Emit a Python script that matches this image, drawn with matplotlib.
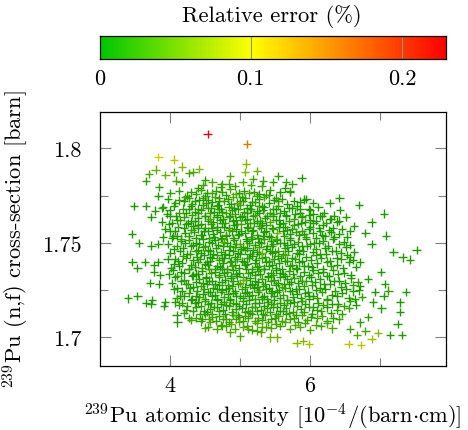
import numpy as np
import matplotlib
matplotlib.use("Agg")
import matplotlib.pyplot as plt
from matplotlib.colors import LinearSegmentedColormap

plt.rcParams['font.family'] = 'cmr10'
plt.rcParams['mathtext.fontset'] = 'cm'
plt.rcParams['axes.unicode_minus'] = False

# ---- data: 239Pu atomic density [1e-4/(barn cm)], cross-section [barn], rel. error [%]
# sparse points around the cloud
x_edge = [4.54, 5.107, 3.84, 4.06, 4.175, 3.80, 4.06, 3.94, 4.42, 4.34, 4.28, 3.71, 3.66, 4.09, 4.17,
          4.50, 3.85, 4.01, 3.84, 4.41, 4.25, 5.09, 5.07, 5.25, 5.19, 4.86, 4.74, 3.49, 3.66, 3.89,
          3.79, 3.74, 3.46,
          5.55, 5.88, 5.33, 5.47, 5.66, 5.75, 5.64, 5.72, 5.42, 5.92, 6.04, 6.42, 6.28, 6.70, 6.43,
          7.06, 6.88, 6.51, 6.17, 6.29, 6.41, 5.99, 5.86, 6.05, 6.63, 6.79, 7.08, 6.57, 6.14,
          7.52, 7.19, 7.32, 7.43, 7.01, 7.07, 7.12, 7.37, 6.93, 7.05, 7.28, 6.90, 7.28, 7.02, 7.25,
          7.14, 7.31, 6.97, 6.88, 6.73, 6.55, 6.79, 6.67, 5.99, 5.90, 5.81, 5.53, 5.43, 5.24, 6.88,
          6.71, 6.57, 6.83, 6.71, 6.64, 6.83, 6.71, 6.57,
          3.56, 3.47, 3.65, 3.54, 3.41, 3.54, 3.66, 3.75, 3.74, 3.92, 3.93, 3.78, 3.86, 3.72, 3.85,
          3.78, 3.84, 3.74, 3.84, 4.08, 4.10, 4.11, 4.27, 4.46, 4.55, 4.74, 4.86, 5.00, 5.12, 5.30]
y_edge = [1.8077, 1.8023, 1.7952, 1.7940, 1.7903, 1.7887, 1.7873, 1.7859, 1.7890, 1.7876, 1.7869,
          1.7862, 1.7825, 1.7829, 1.7820, 1.7830, 1.7795, 1.7763, 1.7749, 1.7788, 1.7750, 1.7919,
          1.7873, 1.7878, 1.7838, 1.7852, 1.7811, 1.7696, 1.7696, 1.7684, 1.7670, 1.7635, 1.7547,
          1.7852, 1.7844, 1.7829, 1.7820, 1.7823, 1.7811, 1.7788, 1.7770, 1.7753, 1.7728, 1.7711,
          1.7737, 1.7711, 1.7700, 1.7675, 1.7654, 1.7608, 1.7635, 1.7643, 1.7626, 1.7617, 1.7647,
          1.7679, 1.7605, 1.7587, 1.7552, 1.7538, 1.7564, 1.7564,
          1.7463, 1.7453, 1.7423, 1.7411, 1.7344, 1.7282, 1.7247, 1.7238, 1.7241, 1.7220, 1.7185,
          1.7185, 1.7135, 1.7153, 1.7069, 1.7012, 1.7012, 1.7023, 1.6991, 1.6959, 1.6965, 1.7035,
          1.7012, 1.6963, 1.6982, 1.6970, 1.7000, 1.7000, 1.7035, 1.7494, 1.7397, 1.7423, 1.7308,
          1.7273, 1.7203, 1.7106, 1.7079, 1.7044,
          1.7499, 1.7397, 1.7400, 1.7365, 1.7206, 1.7220, 1.7181, 1.7199, 1.7176, 1.7164, 1.7185,
          1.7347, 1.7330, 1.7287, 1.7282, 1.7383, 1.7400, 1.7485, 1.7494, 1.7185, 1.7118, 1.7079,
          1.7101, 1.7097, 1.7053, 1.7061, 1.7026, 1.7005, 1.7044, 1.7026]
e_edge = [.23, .16, .10, .09, .07, .06, .05, .06, .07, .05, .04, .05, .03, .05, .04,
          .03, .03, .03, .02, .02, .02, .07, .07, .06, .04, .05, .04, .02, .02, .03,
          .02, .02, .02,
          .03, .02, .03, .03, .03, .03, .02, .02, .02, .02, .02, .02, .02, .02, .02,
          .02, .02, .02, .02, .02, .02, .02, .02, .02, .02, .02, .02, .02, .02,
          .02, .02, .02, .02, .02, .02, .03, .02, .02, .02, .02, .02, .02, .02, .02,
          .02, .02, .07, .08, .09, .09, .04, .05, .08, .07, .07, .06, .06, .05, .02,
          .02, .02, .02, .02, .02, .03, .03, .04,
          .02, .02, .02, .02, .02, .02, .02, .02, .02, .02, .02, .02, .02, .02, .02,
          .02, .02, .02, .02, .02, .02, .02, .03, .03, .04, .04, .05, .05, .05, .05]

# dense core of the cloud, row by row from top to bottom
x_core = [
    4.47, 4.61, 4.73, 4.84, 4.93, 5.04, 5.16, 5.31,
    4.13, 4.31, 4.44, 4.53, 4.66, 4.75, 4.86, 4.99, 5.06, 5.2, 5.28, 5.43, 5.58, 5.71,
    3.98, 4.14, 4.27, 4.36, 4.48, 4.54, 4.65, 4.71, 4.83, 4.9, 5.01, 5.08, 5.17, 5.27, 5.35, 5.49, 5.6, 5.77, 5.95,
    3.91, 4.06, 4.19, 4.3, 4.41, 4.47, 4.59, 4.67, 4.73, 4.84, 4.92, 5.0, 5.11, 5.16, 5.28, 5.34, 5.47, 5.55, 5.7, 5.81, 5.98, 6.12,
    3.96, 4.09, 4.23, 4.32, 4.4, 4.51, 4.58, 4.68, 4.75, 4.86, 4.93, 5.03, 5.1, 5.21, 5.28, 5.39, 5.47, 5.58, 5.66, 5.79, 5.89, 6.05, 6.2, 6.34,
    3.89, 4.03, 4.15, 4.26, 4.36, 4.45, 4.55, 4.62, 4.72, 4.79, 4.9, 4.96, 5.07, 5.14, 5.25, 5.32, 5.43, 5.51, 5.62, 5.7, 5.83, 5.93, 6.08, 6.23, 6.39,
    3.94, 4.07, 4.2, 4.31, 4.41, 4.49, 4.6, 4.67, 4.77, 4.84, 4.95, 5.02, 5.12, 5.19, 5.3, 5.37, 5.48, 5.56, 5.67, 5.75, 5.88, 5.98, 6.13, 6.27, 6.46,
    3.91, 4.05, 4.16, 4.27, 4.37, 4.46, 4.56, 4.63, 4.73, 4.8, 4.91, 4.98, 5.09, 5.16, 5.26, 5.33, 5.44, 5.52, 5.63, 5.71, 5.84, 5.94, 6.09, 6.21, 6.35, 6.53,
    3.98, 4.1, 4.22, 4.33, 4.42, 4.51, 4.6, 4.69, 4.77, 4.86, 4.95, 5.04, 5.13, 5.21, 5.3, 5.39, 5.48, 5.58, 5.67, 5.77, 5.88, 6.0, 6.13, 6.26, 6.42, 6.57,
    4.01, 4.15, 4.25, 4.37, 4.44, 4.55, 4.62, 4.73, 4.79, 4.9, 4.97, 5.08, 5.14, 5.25, 5.32, 5.43, 5.5, 5.61, 5.69, 5.81, 5.9, 6.04, 6.15, 6.31, 6.44, 6.63,
    3.97, 4.12, 4.23, 4.34, 4.43, 4.53, 4.61, 4.71, 4.78, 4.88, 4.96, 5.06, 5.13, 5.23, 5.31, 5.41, 5.49, 5.59, 5.68, 5.79, 5.89, 6.02, 6.16, 6.28, 6.45, 6.61,
    4.02, 4.13, 4.27, 4.36, 4.46, 4.54, 4.64, 4.72, 4.82, 4.89, 4.99, 5.07, 5.17, 5.24, 5.34, 5.42, 5.52, 5.6, 5.71, 5.8, 5.92, 6.03, 6.18, 6.3, 6.47, 6.66,
    3.99, 4.11, 4.21, 4.33, 4.41, 4.52, 4.59, 4.7, 4.77, 4.87, 4.94, 5.05, 5.12, 5.22, 5.29, 5.4, 5.47, 5.57, 5.65, 5.76, 5.86, 5.99, 6.11, 6.25, 6.4, 6.58,
    4.03, 4.16, 4.26, 4.38, 4.47, 4.56, 4.65, 4.74, 4.83, 4.91, 5.0, 5.09, 5.18, 5.26, 5.36, 5.44, 5.54, 5.63, 5.73, 5.83, 5.95, 6.07, 6.2, 6.34, 6.5, 6.68,
    4.06, 4.18, 4.29, 4.39, 4.49, 4.57, 4.67, 4.75, 4.85, 4.93, 5.03, 5.11, 5.2, 5.28, 5.38, 5.46, 5.56, 5.65, 5.75, 5.85, 5.97, 6.09, 6.22, 6.36, 6.52, 6.7,
    4.1, 4.21, 4.32, 4.42, 4.5, 4.6, 4.68, 4.78, 4.86, 4.95, 5.04, 5.13, 5.21, 5.31, 5.39, 5.49, 5.57, 5.67, 5.76, 5.87, 5.98, 6.1, 6.24, 6.38, 6.55, 6.74,
    4.14, 4.25, 4.36, 4.45, 4.55, 4.63, 4.73, 4.81, 4.91, 4.99, 5.09, 5.17, 5.27, 5.35, 5.45, 5.53, 5.63, 5.72, 5.82, 5.93, 6.05, 6.18, 6.32, 6.48, 6.66,
    4.2, 4.33, 4.43, 4.53, 4.61, 4.71, 4.79, 4.89, 4.97, 5.07, 5.15, 5.25, 5.33, 5.43, 5.51, 5.61, 5.7, 5.8, 5.91, 6.03, 6.16, 6.3, 6.46,
    4.31, 4.44, 4.56, 4.66, 4.76, 4.85, 4.94, 5.04, 5.12, 5.22, 5.31, 5.4, 5.5, 5.6, 5.71, 5.83, 5.96, 6.1, 6.25, 6.41,
    4.5, 4.67, 4.8, 4.93, 5.05, 5.18, 5.31, 5.45, 5.58, 5.72, 5.86, 6.0, 6.16, 6.32,
]
y_core = [
    1.7806, 1.7819, 1.7797, 1.7813, 1.7800, 1.7821, 1.7807, 1.7798,
    1.7774, 1.7766, 1.7781, 1.7762, 1.7776, 1.7768, 1.7783, 1.7764, 1.7775, 1.7770, 1.7759, 1.7779, 1.7766, 1.7772,
    1.7733, 1.7724, 1.7738, 1.7721, 1.7735, 1.7727, 1.7742, 1.7719, 1.7731, 1.7744, 1.7723, 1.7736, 1.7718, 1.7729, 1.7741, 1.7725, 1.7734, 1.7720, 1.7731,
    1.7688, 1.7697, 1.7681, 1.7693, 1.7679, 1.7700, 1.7686, 1.7695, 1.7677, 1.7691, 1.7683, 1.7698, 1.7685, 1.7678, 1.7694, 1.7687, 1.7680, 1.7696, 1.7684, 1.7692, 1.7679, 1.7689,
    1.7652, 1.7643, 1.7658, 1.7646, 1.7655, 1.7640, 1.7657, 1.7648, 1.7661, 1.7644, 1.7653, 1.7639, 1.7659, 1.7647, 1.7656, 1.7642, 1.7651, 1.7660, 1.7645, 1.7654, 1.7641, 1.7650, 1.7657, 1.7644,
    1.7612, 1.7603, 1.7618, 1.7606, 1.7615, 1.7600, 1.7617, 1.7608, 1.7621, 1.7604, 1.7613, 1.7599, 1.7619, 1.7607, 1.7616, 1.7602, 1.7611, 1.7620, 1.7605, 1.7614, 1.7601, 1.7610, 1.7617, 1.7604, 1.7612,
    1.7573, 1.7564, 1.7579, 1.7567, 1.7576, 1.7561, 1.7578, 1.7569, 1.7582, 1.7565, 1.7574, 1.7560, 1.7580, 1.7568, 1.7577, 1.7563, 1.7572, 1.7581, 1.7566, 1.7575, 1.7562, 1.7571, 1.7578, 1.7565, 1.7573,
    1.7528, 1.7537, 1.7522, 1.7534, 1.7525, 1.7540, 1.7523, 1.7532, 1.7519, 1.7536, 1.7527, 1.7541, 1.7521, 1.7533, 1.7524, 1.7538, 1.7529, 1.7520, 1.7535, 1.7526, 1.7539, 1.7530, 1.7523, 1.7536, 1.7528, 1.7533,
    1.7493, 1.7484, 1.7499, 1.7487, 1.7496, 1.7481, 1.7498, 1.7489, 1.7502, 1.7485, 1.7494, 1.7480, 1.7500, 1.7488, 1.7497, 1.7483, 1.7492, 1.7501, 1.7486, 1.7495, 1.7482, 1.7491, 1.7498, 1.7485, 1.7493, 1.7488,
    1.7448, 1.7457, 1.7442, 1.7454, 1.7445, 1.7460, 1.7443, 1.7452, 1.7439, 1.7456, 1.7447, 1.7461, 1.7441, 1.7453, 1.7444, 1.7458, 1.7449, 1.7440, 1.7455, 1.7446, 1.7459, 1.7450, 1.7443, 1.7456, 1.7448, 1.7452,
    1.7413, 1.7404, 1.7419, 1.7407, 1.7416, 1.7401, 1.7418, 1.7409, 1.7422, 1.7405, 1.7414, 1.7400, 1.7420, 1.7408, 1.7417, 1.7403, 1.7412, 1.7421, 1.7406, 1.7415, 1.7402, 1.7411, 1.7418, 1.7405, 1.7413, 1.7408,
    1.7368, 1.7377, 1.7362, 1.7374, 1.7365, 1.7380, 1.7363, 1.7372, 1.7359, 1.7376, 1.7367, 1.7381, 1.7361, 1.7373, 1.7364, 1.7378, 1.7369, 1.7360, 1.7375, 1.7366, 1.7379, 1.7370, 1.7363, 1.7376, 1.7368, 1.7372,
    1.7333, 1.7324, 1.7339, 1.7327, 1.7336, 1.7321, 1.7338, 1.7329, 1.7342, 1.7325, 1.7334, 1.7320, 1.7340, 1.7328, 1.7337, 1.7323, 1.7332, 1.7341, 1.7326, 1.7335, 1.7322, 1.7331, 1.7338, 1.7325, 1.7333, 1.7328,
    1.7288, 1.7297, 1.7282, 1.7294, 1.7285, 1.7300, 1.7283, 1.7292, 1.7279, 1.7296, 1.7287, 1.7301, 1.7281, 1.7293, 1.7284, 1.7298, 1.7289, 1.7280, 1.7295, 1.7286, 1.7299, 1.7290, 1.7283, 1.7296, 1.7288, 1.7292,
    1.7253, 1.7244, 1.7259, 1.7247, 1.7256, 1.7241, 1.7258, 1.7249, 1.7262, 1.7245, 1.7254, 1.7240, 1.7260, 1.7248, 1.7257, 1.7243, 1.7252, 1.7261, 1.7246, 1.7255, 1.7242, 1.7251, 1.7258, 1.7245, 1.7253, 1.7248,
    1.7208, 1.7217, 1.7202, 1.7214, 1.7205, 1.7220, 1.7203, 1.7212, 1.7199, 1.7216, 1.7207, 1.7221, 1.7201, 1.7213, 1.7204, 1.7218, 1.7209, 1.7200, 1.7215, 1.7206, 1.7219, 1.7210, 1.7203, 1.7216, 1.7208, 1.7212,
    1.7173, 1.7164, 1.7179, 1.7167, 1.7176, 1.7161, 1.7178, 1.7169, 1.7182, 1.7165, 1.7174, 1.7160, 1.7180, 1.7168, 1.7177, 1.7163, 1.7172, 1.7181, 1.7166, 1.7175, 1.7162, 1.7171, 1.7178, 1.7165, 1.7173,
    1.7128, 1.7137, 1.7122, 1.7134, 1.7125, 1.7140, 1.7123, 1.7132, 1.7119, 1.7136, 1.7127, 1.7141, 1.7121, 1.7133, 1.7124, 1.7138, 1.7129, 1.7120, 1.7135, 1.7126, 1.7139, 1.7130, 1.7123,
    1.7093, 1.7084, 1.7099, 1.7087, 1.7096, 1.7081, 1.7098, 1.7089, 1.7102, 1.7085, 1.7094, 1.7080, 1.7100, 1.7088, 1.7097, 1.7083, 1.7092, 1.7101, 1.7086, 1.7095,
    1.7052, 1.7043, 1.7058, 1.7046, 1.7055, 1.7041, 1.7057, 1.7048, 1.7061, 1.7044, 1.7053, 1.7040, 1.7059, 1.7047,
]
e_core = [
    .04, .05, .03, .04, .03, .05, .04, .04,
    .03, .03, .04, .02, .03, .03, .04, .02, .03, .03, .02, .03, .02, .03,
    .02, .03, .03, .02, .03, .02, .04, .02, .03, .05, .02, .03, .02, .03, .04, .02, .03, .02, .02,
    .02, .02, .03, .02, .03, .02, .02, .03, .02, .03, .02, .04, .02, .02, .03, .02, .02, .03, .02, .02, .02, .02,
    .02, .02, .02, .03, .02, .02, .03, .02, .02, .02, .03, .02, .02, .04, .02, .02, .03, .02, .02, .02, .03, .02, .02, .02,
    .02, .02, .03, .02, .02, .03, .02, .02, .02, .03, .02, .02, .02, .03, .02, .02, .05, .02, .02, .03, .02, .02, .02, .03, .02,
    .02, .02, .02, .03, .02, .02, .03, .02, .02, .04, .02, .02, .03, .02, .02, .02, .03, .02, .02, .02, .03, .02, .02, .02, .02,
    .02, .02, .03, .02, .02, .02, .03, .02, .02, .02, .03, .02, .02, .03, .02, .02, .02, .04, .02, .02, .02, .03, .02, .02, .02, .02,
    .02, .03, .02, .02, .02, .03, .02, .02, .05, .02, .02, .02, .03, .02, .02, .02, .03, .02, .02, .02, .02, .03, .02, .02, .02, .02,
    .02, .02, .02, .03, .02, .02, .02, .03, .02, .02, .02, .03, .02, .02, .06, .02, .02, .03, .02, .02, .02, .02, .03, .02, .02, .02,
    .02, .02, .03, .02, .02, .02, .02, .03, .02, .02, .03, .02, .02, .02, .02, .03, .02, .02, .02, .03, .02, .02, .02, .02, .03, .02,
    .02, .02, .02, .02, .03, .02, .02, .02, .02, .04, .02, .02, .02, .03, .02, .02, .02, .02, .03, .02, .02, .02, .02, .03, .02, .02,
    .02, .03, .02, .02, .02, .02, .03, .02, .02, .02, .02, .02, .03, .02, .02, .02, .03, .02, .02, .02, .02, .02, .03, .02, .02, .02,
    .02, .02, .03, .02, .02, .02, .02, .02, .03, .02, .05, .02, .02, .02, .02, .03, .02, .02, .02, .02, .03, .02, .02, .02, .02, .03,
    .02, .02, .02, .02, .03, .02, .02, .02, .02, .02, .03, .02, .02, .04, .02, .02, .02, .03, .02, .02, .02, .02, .02, .03, .02, .02,
    .03, .02, .02, .03, .02, .02, .02, .03, .02, .02, .02, .02, .03, .02, .02, .02, .02, .03, .02, .02, .02, .03, .02, .02, .02, .03,
    .03, .03, .02, .03, .02, .03, .02, .02, .03, .02, .02, .03, .02, .02, .03, .02, .02, .02, .03, .02, .02, .03, .02, .03, .02,
    .03, .03, .03, .02, .03, .03, .02, .03, .03, .02, .03, .03, .02, .03, .03, .02, .03, .03, .03, .02, .03, .03, .03,
    .04, .03, .04, .03, .04, .03, .04, .03, .04, .04, .03, .04, .03, .04, .04, .03, .04, .04, .03, .04,
    .05, .05, .04, .05, .05, .04, .05, .05, .04, .05, .05, .05, .04, .05,
]

# extra points in between the core rows (the cloud is very dense there)
x_fill = [
    4.22, 4.38, 4.51, 4.6, 4.7, 4.8, 4.94, 5.03, 5.13, 5.24, 5.37, 5.52,
    4.08, 4.2, 4.32, 4.42, 4.52, 4.6, 4.69, 4.78, 4.87, 4.96, 5.05, 5.14, 5.22, 5.31, 5.42, 5.54, 5.68, 5.86,
    4.0, 4.14, 4.27, 4.36, 4.45, 4.54, 4.63, 4.71, 4.8, 4.89, 4.98, 5.06, 5.15, 5.24, 5.33, 5.43, 5.52, 5.63, 5.74, 5.86, 6.0,
    4.0, 4.11, 4.21, 4.31, 4.4, 4.5, 4.58, 4.67, 4.76, 4.84, 4.94, 5.01, 5.11, 5.19, 5.29, 5.36, 5.47, 5.56, 5.66, 5.77, 5.88, 6.0, 6.15, 6.3,
    3.99, 4.12, 4.24, 4.33, 4.41, 4.51, 4.59, 4.68, 4.75, 4.85, 4.92, 5.02, 5.1, 5.2, 5.28, 5.38, 5.46, 5.57, 5.65, 5.77, 5.87, 6.0, 6.18, 6.33,
    4.0, 4.11, 4.22, 4.35, 4.44, 4.54, 4.62, 4.72, 4.81, 4.89, 4.99, 5.07, 5.17, 5.24, 5.35, 5.42, 5.53, 5.61, 5.71, 5.8, 5.91, 6.04, 6.17, 6.3, 6.42,
    4.04, 4.16, 4.27, 4.38, 4.47, 4.56, 4.64, 4.74, 4.82, 4.92, 5.0, 5.1, 5.17, 5.27, 5.35, 5.45, 5.53, 5.63, 5.72, 5.83, 5.94, 6.06, 6.19, 6.33, 6.49,
    4.06, 4.19, 4.3, 4.4, 4.48, 4.58, 4.66, 4.76, 4.84, 4.93, 5.02, 5.11, 5.19, 5.28, 5.37, 5.46, 5.55, 5.64, 5.74, 5.85, 5.96, 6.09, 6.22, 6.37, 6.52,
    4.07, 4.19, 4.29, 4.39, 4.49, 4.58, 4.67, 4.75, 4.84, 4.93, 5.01, 5.11, 5.18, 5.28, 5.36, 5.46, 5.54, 5.65, 5.74, 5.85, 5.95, 6.08, 6.23, 6.38, 6.53,
    4.06, 4.18, 4.31, 4.4, 4.5, 4.58, 4.68, 4.76, 4.86, 4.93, 5.03, 5.1, 5.21, 5.28, 5.38, 5.46, 5.56, 5.64, 5.75, 5.85, 5.97, 6.1, 6.24, 6.39, 6.56,
    4.05, 4.16, 4.27, 4.37, 4.46, 4.56, 4.64, 4.74, 4.82, 4.91, 4.99, 5.09, 5.17, 5.26, 5.35, 5.44, 5.52, 5.62, 5.7, 5.81, 5.92, 6.05, 6.18, 6.33, 6.49,
    4.08, 4.21, 4.32, 4.42, 4.52, 4.61, 4.7, 4.79, 4.87, 4.96, 5.05, 5.14, 5.22, 5.31, 5.4, 5.49, 5.58, 5.68, 5.78, 5.89, 6.01, 6.14, 6.27, 6.42, 6.59,
    4.11, 4.23, 4.34, 4.44, 4.53, 4.62, 4.71, 4.8, 4.89, 4.97, 5.07, 5.15, 5.24, 5.33, 5.42, 5.51, 5.6, 5.7, 5.8, 5.91, 6.03, 6.15, 6.29, 6.44, 6.61,
    4.15, 4.27, 4.37, 4.47, 4.55, 4.65, 4.73, 4.83, 4.91, 5.0, 5.08, 5.18, 5.26, 5.35, 5.44, 5.53, 5.62, 5.72, 5.82, 5.93, 6.04, 6.17, 6.31, 6.46, 6.62,
    4.18, 4.3, 4.4, 4.5, 4.59, 4.68, 4.77, 4.86, 4.95, 5.04, 5.13, 5.22, 5.31, 5.4, 5.49, 5.58, 5.68, 5.78, 5.88, 5.99, 6.11, 6.25, 6.4, 6.57,
    4.24, 4.38, 4.49, 4.58, 4.67, 4.76, 4.85, 4.94, 5.03, 5.12, 5.21, 5.3, 5.39, 5.48, 5.57, 5.66, 5.76, 5.87, 5.98, 6.1, 6.24, 6.39, 6.56,
    4.37, 4.5, 4.61, 4.71, 4.81, 4.9, 4.99, 5.08, 5.17, 5.26, 5.36, 5.45, 5.55, 5.66, 5.77, 5.89, 6.02, 6.17, 6.33,
    4.58, 4.73, 4.87, 4.99, 5.11, 5.24, 5.38, 5.51, 5.65, 5.79, 5.93, 6.08, 6.24,
]
y_fill = [
    1.7740, 1.7757, 1.7746, 1.7762, 1.7737, 1.7752, 1.7759, 1.7743, 1.7764, 1.7748, 1.7755, 1.7739,
    1.7712, 1.7719, 1.7703, 1.7724, 1.7708, 1.7715, 1.7699, 1.7720, 1.7705, 1.7713, 1.7723, 1.7701, 1.7716, 1.7696, 1.7711, 1.7721, 1.7704, 1.7718,
    1.7675, 1.7659, 1.7680, 1.7665, 1.7673, 1.7683, 1.7661, 1.7676, 1.7656, 1.7671, 1.7681, 1.7664, 1.7678, 1.7667, 1.7674, 1.7660, 1.7677, 1.7666, 1.7682, 1.7657, 1.7672,
    1.7643, 1.7621, 1.7636, 1.7616, 1.7631, 1.7641, 1.7624, 1.7638, 1.7627, 1.7634, 1.7620, 1.7637, 1.7626, 1.7642, 1.7617, 1.7632, 1.7639, 1.7623, 1.7644, 1.7628, 1.7635, 1.7619, 1.7640, 1.7625,
    1.7601, 1.7584, 1.7598, 1.7587, 1.7594, 1.7580, 1.7597, 1.7586, 1.7602, 1.7577, 1.7592, 1.7599, 1.7583, 1.7604, 1.7588, 1.7595, 1.7579, 1.7600, 1.7585, 1.7593, 1.7603, 1.7581, 1.7596, 1.7576,
    1.7562, 1.7537, 1.7552, 1.7559, 1.7543, 1.7564, 1.7548, 1.7555, 1.7539, 1.7560, 1.7545, 1.7553, 1.7563, 1.7541, 1.7556, 1.7536, 1.7551, 1.7561, 1.7544, 1.7558, 1.7547, 1.7554, 1.7540, 1.7557, 1.7546,
    1.7524, 1.7508, 1.7515, 1.7499, 1.7520, 1.7505, 1.7513, 1.7523, 1.7501, 1.7516, 1.7496, 1.7511, 1.7521, 1.7504, 1.7518, 1.7507, 1.7514, 1.7500, 1.7517, 1.7506, 1.7522, 1.7497, 1.7512, 1.7519, 1.7503,
    1.7465, 1.7473, 1.7483, 1.7461, 1.7476, 1.7456, 1.7471, 1.7481, 1.7464, 1.7478, 1.7467, 1.7474, 1.7460, 1.7477, 1.7466, 1.7482, 1.7457, 1.7472, 1.7479, 1.7463, 1.7484, 1.7468, 1.7475, 1.7459, 1.7480,
    1.7416, 1.7431, 1.7441, 1.7424, 1.7438, 1.7427, 1.7434, 1.7420, 1.7437, 1.7426, 1.7442, 1.7417, 1.7432, 1.7439, 1.7423, 1.7444, 1.7428, 1.7435, 1.7419, 1.7440, 1.7425, 1.7433, 1.7443, 1.7421, 1.7436,
    1.7387, 1.7394, 1.7380, 1.7397, 1.7386, 1.7402, 1.7377, 1.7392, 1.7399, 1.7383, 1.7404, 1.7388, 1.7395, 1.7379, 1.7400, 1.7385, 1.7393, 1.7403, 1.7381, 1.7396, 1.7376, 1.7391, 1.7401, 1.7384, 1.7398,
    1.7357, 1.7346, 1.7362, 1.7337, 1.7352, 1.7359, 1.7343, 1.7364, 1.7348, 1.7355, 1.7339, 1.7360, 1.7345, 1.7353, 1.7363, 1.7341, 1.7356, 1.7336, 1.7351, 1.7361, 1.7344, 1.7358, 1.7347, 1.7354, 1.7340,
    1.7319, 1.7303, 1.7324, 1.7308, 1.7315, 1.7299, 1.7320, 1.7305, 1.7313, 1.7323, 1.7301, 1.7316, 1.7296, 1.7311, 1.7321, 1.7304, 1.7318, 1.7307, 1.7314, 1.7300, 1.7317, 1.7306, 1.7322, 1.7297, 1.7312,
    1.7259, 1.7280, 1.7265, 1.7273, 1.7283, 1.7261, 1.7276, 1.7256, 1.7271, 1.7281, 1.7264, 1.7278, 1.7267, 1.7274, 1.7260, 1.7277, 1.7266, 1.7282, 1.7257, 1.7272, 1.7279, 1.7263, 1.7284, 1.7268, 1.7275,
    1.7221, 1.7236, 1.7216, 1.7231, 1.7241, 1.7224, 1.7238, 1.7227, 1.7234, 1.7220, 1.7237, 1.7226, 1.7242, 1.7217, 1.7232, 1.7239, 1.7223, 1.7244, 1.7228, 1.7235, 1.7219, 1.7240, 1.7225, 1.7233, 1.7243,
    1.7184, 1.7198, 1.7187, 1.7194, 1.7180, 1.7197, 1.7186, 1.7202, 1.7177, 1.7192, 1.7199, 1.7183, 1.7204, 1.7188, 1.7195, 1.7179, 1.7200, 1.7185, 1.7193, 1.7203, 1.7181, 1.7196, 1.7176, 1.7191,
    1.7146, 1.7162, 1.7137, 1.7152, 1.7159, 1.7143, 1.7164, 1.7148, 1.7155, 1.7139, 1.7160, 1.7145, 1.7153, 1.7163, 1.7141, 1.7156, 1.7136, 1.7151, 1.7161, 1.7144, 1.7158, 1.7147, 1.7154,
    1.7103, 1.7124, 1.7108, 1.7115, 1.7099, 1.7120, 1.7105, 1.7113, 1.7123, 1.7101, 1.7116, 1.7096, 1.7111, 1.7121, 1.7104, 1.7118, 1.7107, 1.7114, 1.7100,
    1.7080, 1.7065, 1.7073, 1.7083, 1.7061, 1.7076, 1.7056, 1.7071, 1.7081, 1.7064, 1.7078, 1.7067, 1.7074,
]
e_fill = [
    .04, .03, .03, .04, .03, .03, .05, .03, .04, .03, .03, .03,
    .03, .02, .03, .02, .03, .02, .02, .03, .02, .04, .02, .02, .03, .02, .02, .03, .02, .02,
    .02, .03, .02, .02, .02, .03, .02, .02, .04, .02, .02, .03, .02, .02, .02, .03, .02, .02, .02, .02, .02,
    .02, .02, .03, .02, .02, .02, .05, .02, .02, .03, .02, .02, .02, .02, .03, .02, .02, .02, .02, .03, .02, .02, .02, .02,
    .02, .03, .02, .02, .02, .02, .03, .02, .02, .02, .02, .04, .02, .02, .03, .02, .02, .02, .02, .03, .02, .02, .02, .02,
    .02, .02, .02, .03, .02, .02, .02, .02, .03, .02, .02, .02, .02, .03, .02, .02, .06, .02, .02, .03, .02, .02, .02, .02, .02,
    .02, .02, .03, .02, .02, .02, .02, .03, .02, .02, .05, .02, .02, .02, .03, .02, .02, .02, .02, .03, .02, .02, .02, .02, .02,
    .02, .02, .02, .02, .03, .02, .02, .02, .02, .03, .02, .02, .02, .04, .02, .02, .03, .02, .02, .02, .02, .03, .02, .02, .02,
    .02, .03, .02, .02, .02, .02, .03, .02, .02, .02, .02, .03, .02, .02, .02, .02, .03, .05, .02, .02, .02, .03, .02, .02, .02,
    .02, .02, .02, .03, .02, .02, .02, .02, .03, .02, .02, .02, .02, .03, .02, .02, .02, .02, .03, .02, .02, .02, .03, .02, .02,
    .02, .02, .03, .02, .02, .04, .02, .02, .03, .02, .02, .02, .02, .03, .02, .02, .02, .02, .03, .02, .02, .02, .02, .03, .02,
    .02, .03, .02, .02, .02, .02, .03, .02, .02, .02, .06, .02, .02, .03, .02, .02, .02, .02, .03, .02, .02, .02, .02, .02, .02,
    .02, .02, .02, .03, .02, .02, .02, .02, .03, .02, .02, .02, .02, .03, .02, .02, .04, .02, .02, .03, .02, .02, .02, .02, .03,
    .02, .03, .02, .02, .02, .02, .03, .02, .02, .02, .02, .03, .02, .02, .02, .02, .03, .02, .02, .02, .02, .03, .02, .02, .02,
    .03, .02, .02, .03, .02, .02, .03, .02, .02, .03, .02, .02, .03, .02, .02, .03, .02, .02, .03, .02, .02, .03, .02, .03,
    .03, .03, .02, .03, .03, .02, .03, .03, .02, .03, .03, .02, .03, .03, .02, .03, .03, .02, .03, .03, .02, .03, .03,
    .04, .03, .04, .03, .04, .04, .03, .04, .03, .04, .04, .03, .04, .03, .04, .04, .03, .04, .03,
    .05, .04, .05, .05, .04, .05, .05, .04, .05, .05, .04, .05, .05,
]

err_max = 0.229
x_ticks = [4, 6]
y_ticks = [1.7, 1.75, 1.8]
cb_ticks = [0, 0.1, 0.2]

# green -> yellow -> red map (pgfplots style)
cmap_bar = LinearSegmentedColormap.from_list(
    'gyr', [(0.0, (0.0, 0.78, 0.0)), (0.1 / err_max, (1.0, 1.0, 0.0)), (1.0, (1.0, 0.0, 0.0))])
# marks are drawn a bit darker than the bar
cmap_mark = LinearSegmentedColormap.from_list(
    'gyr_dark', [(0.0, (0.0, 0.57, 0.0)), (0.05 / err_max, (0.3, 0.66, 0.0)),
                 (0.1 / err_max, (0.82, 0.82, 0.0)), (1.0, (0.85, 0.05, 0.05))])

xs = np.array(x_core + x_fill + x_edge)
ys = np.array(y_core + y_fill + y_edge)
es = np.array(e_core + e_fill + e_edge)
order = np.argsort(es, kind='stable')

fig = plt.figure(figsize=(4.68, 4.31), dpi=100)
W, H = 468.0, 431.0
ax = fig.add_axes([99.5 / W, 1 - 366.7 / H, (446 - 99.5) / W, (366.7 - 113.3) / H])
cax = fig.add_axes([99.5 / W, 1 - 60 / H, (446 - 99.5) / W, (60 - 37.3) / H])

ax.scatter(xs[order], ys[order], c=es[order], cmap=cmap_mark, vmin=0, vmax=err_max,
           marker='+', s=36, linewidths=1.0)

ax.set_xlim(3.0, 7.94)
ax.set_ylim(1.685, 1.819)
ax.set_xticks(x_ticks)
ax.set_xticklabels([str(v) for v in x_ticks])
ax.set_xticks([5, 7], minor=True)
ax.set_yticks(y_ticks)
ax.set_yticklabels(['1.7', '1.75', '1.8'])
ax.set_yticks([1.725, 1.775], minor=True)
ax.tick_params(which='both', direction='in', top=True, right=True, color='#808080',
               labelsize=16, width=0.8)
ax.tick_params(which='major', length=8)
ax.tick_params(which='minor', length=5.5)
ax.tick_params(axis='x', pad=7)
ax.tick_params(axis='y', pad=13)
for sp in ax.spines.values():
    sp.set_linewidth(0.9)

# colour bar
grad = np.linspace(0, err_max, 400).reshape(1, -1)
cax.imshow(grad, aspect='auto', cmap=cmap_bar, extent=[0, err_max, 0, 1], vmin=0, vmax=err_max)
for t in cb_ticks[1:]:
    cax.axvline(t, color='#909090', lw=0.8)
cax.set_xlim(0, err_max)
cax.set_yticks([])
cax.set_xticks(cb_ticks)
cax.set_xticklabels(['0', '0.1', '0.2'])
cax.tick_params(axis='x', length=0, labelsize=16, pad=7)
for sp in cax.spines.values():
    sp.set_linewidth(0.9)

fig.text(272 / W, 1 - 16 / H, 'Relative error (%)', ha='center', va='center', fontsize=16.2)
fig.text(272 / W, 1 - 417 / H, r'$^{239}$Pu atomic density [10$^{-4}$/(barn$\cdot$cm)]',
         ha='center', va='center', fontsize=16.2)
fig.text(16 / W, 1 - 240 / H, r'$^{239}$Pu (n,f) cross-section [barn]',
         ha='center', va='center', rotation=90, fontsize=16.2)

fig.savefig('out.png', dpi=100)
